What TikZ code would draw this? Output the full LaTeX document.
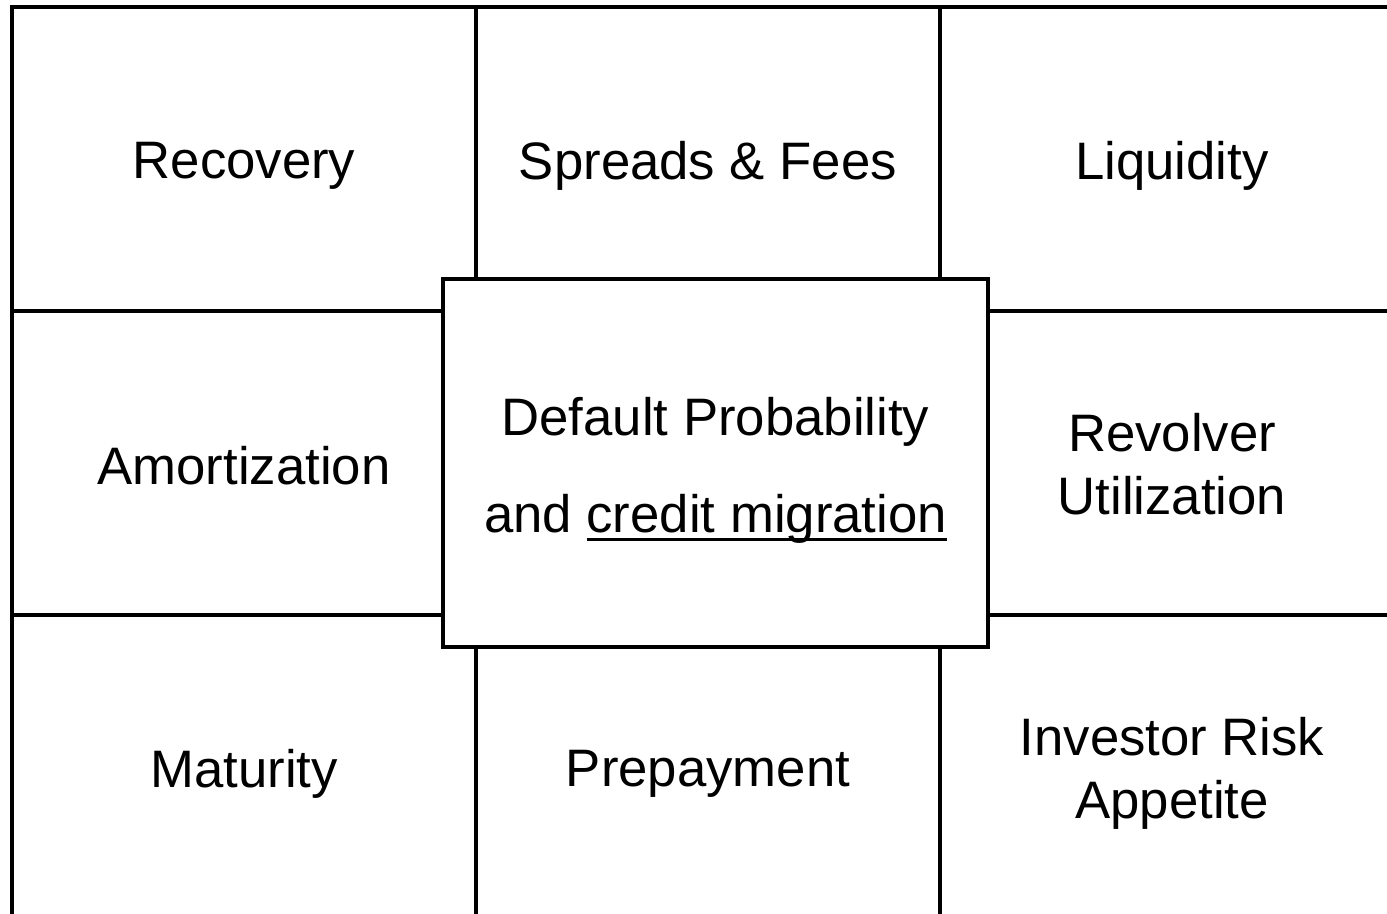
\documentclass[tikz,border=0pt]{standalone}
\usepackage{fontspec}
\setmainfont{Liberation Sans}
\usepackage{tikz}
\usetikzlibrary{positioning}
\newcommand{\ulmark}[1]{\setbox0\hbox{#1}\rlap{\rule[-4.7pt]{\wd0}{1.7pt}}\box0}
\tikzset{
  cell/.style={draw, line width=2pt, minimum width=9.28cm, minimum height=6.08cm, inner sep=0pt},
  txt/.style={align=center, inner sep=0pt, yshift=-0.13cm, font=\fontsize{30}{36}\selectfont},
  core/.style={draw, fill=white, line width=2pt, minimum width=10.9cm, minimum height=7.36cm, inner sep=0pt},
  coretxt/.style={align=center, inner sep=0pt, yshift=-0.15cm, font=\fontsize{30}{55}\selectfont}
}

\begin{document}
\begin{tikzpicture}
      \useasboundingbox (0,0) rectangle (27.74,-18.28);

      \node[cell, label={[txt]center:Recovery}] (Recovery) at (4.88,-3.18) {};
      \node[cell, label={[txt]center:Spreads \& Fees}] (Spreads) at (14.16,-3.18) {};
      \node[cell, label={[txt]center:Liquidity}] (Liquidity) at (23.44,-3.18) {};

      \node[cell, label={[txt, yshift=0.07cm]center:Amortization}] (Amortization) at (4.88,-9.26) {};
      \node[cell, label={[txt, yshift=0.1cm]center:Revolver\\Utilization}] (Revolver) at (23.44,-9.26) {};

      \node[cell, label={[txt]center:Maturity}] (Maturity) at (4.88,-15.34) {};
      \node[cell, label={[txt]center:Prepayment}] (Prepayment) at (14.16,-15.34) {};
      \node[cell, label={[txt]center:Investor Risk\\Appetite}] (Investor) at (23.44,-15.34) {};

      \node[core, label={[coretxt]center:Default Probability\\and \ulmark{credit migration}}] (Default) at (14.31,-9.26) {};
    \end{tikzpicture}
\end{document}
